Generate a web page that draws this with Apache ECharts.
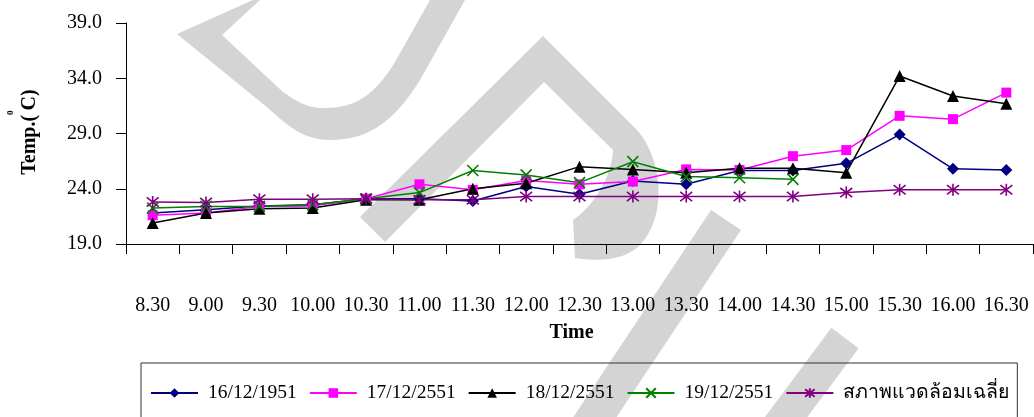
<!DOCTYPE html>
<html>
<head>
<meta charset="utf-8">
<script src="https://cdn.jsdelivr.net/npm/echarts@6/dist/echarts.min.js"></script>
<style>
  html, body { margin: 0; padding: 0; background: #fff; }
  #chart { width: 1034px; height: 417px; }
</style>
</head>
<body>
<div id="chart"></div>
<script>
// Half-hourly readings, 8.30 to 16.30
const times = ['8.30', '9.00', '9.30', '10.00', '10.30', '11.00', '11.30', '12.00', '12.30',
               '13.00', '13.30', '14.00', '14.30', '15.00', '15.30', '16.00', '16.30'];

const seriesNames = ['16/12/1951', '17/12/2551', '18/12/2551', '19/12/2551', 'สภาพแวดล้อมเฉลี่ย'];

const day16 = [21.8, 22.1, 22.45, 22.55, 23.1, 23.1, 22.9, 24.2, 23.5, 24.7, 24.4, 25.65, 25.65, 26.3, 28.9, 25.8, 25.7];
const day17 = [21.6, 21.8, 22.4, 22.45, 23.1, 24.4, 23.9, 24.75, 24.4, 24.65, 25.75, 25.7, 26.95, 27.5, 30.6, 30.3, 32.7];
const day18 = [20.9, 21.8, 22.2, 22.25, 23.0, 23.0, 24.0, 24.5, 26.0, 25.75, 25.45, 25.85, 25.85, 25.45, 34.2, 32.4, 31.7];
const day19 = [22.25, 22.4, 22.4, 22.55, 23.1, 23.65, 25.65, 25.25, 24.55, 26.45, 25.1, 25.0, 24.85, null, null, null, null];
const average = [22.8, 22.75, 23.05, 23.05, 23.1, 23.0, 23.0, 23.3, 23.3, 23.3, 23.3, 23.3, 23.3, 23.65, 23.9, 23.9, 23.9];

const yMin = 19, yMax = 39, yStep = 5;

const FONT = "'Liberation Serif', 'Times New Roman', 'DejaVu Serif', serif";
const WM = '#d4d4d4';

// Outline builder for the pale background lettering: straight segments and cubic curves
function outline(cmds) {
  const pts = [];
  let cur = null;
  cmds.forEach(function (c) {
    if (c.length === 2) {
      cur = c; pts.push(c);
    } else {
      const p0 = cur, p1 = [c[0], c[1]], p2 = [c[2], c[3]], p3 = [c[4], c[5]];
      for (let i = 1; i <= 16; i++) {
        const t = i / 16, u = 1 - t;
        pts.push([
          u * u * u * p0[0] + 3 * u * u * t * p1[0] + 3 * u * t * t * p2[0] + t * t * t * p3[0],
          u * u * u * p0[1] + 3 * u * u * t * p1[1] + 3 * u * t * t * p2[1] + t * t * t * p3[1]
        ]);
      }
      cur = p3;
    }
  });
  return pts;
}

function lineSeries(name, data, color, symbol, size, stroked) {
  return {
    name: name,
    type: 'line',
    data: data,
    symbol: symbol,
    symbolSize: size,
    showAllSymbol: true,
    connectNulls: false,
    lineStyle: { color: color, width: 1.5 },
    itemStyle: stroked
      ? { color: color, borderColor: color, borderWidth: 1.6 }
      : { color: color, borderWidth: 0 },
    emphasis: { disabled: true }
  };
}

const chart = echarts.init(document.getElementById('chart'), null, { renderer: 'canvas' });

chart.setOption({
  animation: false,
  backgroundColor: '#fff',
  grid: { left: 126, right: 1, top: 23, bottom: 173, containLabel: false },
  xAxis: {
    type: 'category',
    data: times,
    boundaryGap: true,
    name: 'Time',
    nameLocation: 'middle',
    nameGap: 79,
    nameTextStyle: { fontFamily: FONT, fontSize: 20, fontWeight: 'bold', color: '#000', padding: [0, 16, 0, 0] },
    axisLine: { show: true, lineStyle: { color: '#000', width: 1 } },
    axisTick: { show: true, length: 10, interval: 0, lineStyle: { color: '#000', width: 1 } },
    axisLabel: { interval: 0, margin: 52, fontFamily: FONT, fontSize: 20, color: '#000' },
    splitLine: { show: false }
  },
  yAxis: {
    type: 'value',
    min: yMin,
    max: yMax,
    interval: yStep,
    axisLine: { show: true, lineStyle: { color: '#000', width: 1 } },
    axisTick: { show: true, length: 10, lineStyle: { color: '#000', width: 1 } },
    axisLabel: { margin: 24, fontFamily: FONT, fontSize: 20, color: '#000',
                 formatter: function (v) { return v.toFixed(1); } },
    splitLine: { show: false }
  },
  legend: {
    data: seriesNames,
    left: 141,
    top: 363,
    orient: 'horizontal',
    padding: [20, 8, 18, 9],
    itemGap: 12,
    itemWidth: 47,
    itemHeight: 12,
    borderColor: '#333',
    borderWidth: 1,
    backgroundColor: 'transparent',
    textStyle: { fontFamily: FONT, fontSize: 19.5, color: '#000', padding: [0, 0, 0, 5] }
  },
  graphic: [
    {
      // pale diagonal lettering behind the plot
      type: 'group',
      silent: true,
      z: -5,
      children: [
        {
          type: 'polygon',
          z: -5,
          shape: { points: outline([
            [253, 0], [177, 34], [268, 108],
            [290, 128, 305, 140, 330, 140],
            [370, 140, 395, 120, 420, 80],
            [465, 0], [430, 0], [395, 62],
            [375, 95, 355, 108, 325, 108],
            [305, 108, 295, 100, 283, 92],
            [222, 35], [260, 0]
          ]) },
          style: { fill: WM }
        },
        {
          type: 'polygon',
          z: -5,
          shape: { points: outline([
            [360, 217], [543, 36], [637, 130],
            [662, 158, 668, 215, 640, 245],
            [625, 260, 600, 262, 575, 258],
            [573, 220],
            [595, 205, 612, 175, 613, 150],
            [544, 82], [385, 242]
          ]) },
          style: { fill: WM }
        },
        {
          type: 'polyline',
          z: -5,
          shape: { points: [[726, 220], [585, 432]] },
          style: { stroke: WM, lineWidth: 36, fill: null, lineCap: 'butt' }
        },
        {
          type: 'polyline',
          z: -5,
          shape: { points: [[845, 338], [775, 432]] },
          style: { stroke: WM, lineWidth: 34, fill: null, lineCap: 'butt' }
        }
      ]
    },
    {
      type: 'text',
      x: 30,
      y: 132,
      rotation: Math.PI / 2,
      silent: true,
      style: {
        text: '{a|Temp.(}{s|0}{a|C)}',
        align: 'center',
        verticalAlign: 'middle',
        rich: {
          a: { fontFamily: FONT, fontSize: 20, fontWeight: 'bold', lineHeight: 20, verticalAlign: 'bottom', fill: '#000' },
          s: { fontFamily: FONT, fontSize: 9, fontWeight: 'bold', lineHeight: 9, padding: [0, 0, 25, 0], verticalAlign: 'bottom', fill: '#000' }
        }
      }
    }
  ],
  series: [
    lineSeries(seriesNames[0], day16, '#000080', 'diamond', 12, false),
    lineSeries(seriesNames[1], day17, '#FF00FF', 'rect', 10, false),
    lineSeries(seriesNames[2], day18, '#000000', 'triangle', 12, false),
    lineSeries(seriesNames[3], day19, '#008000', 'path://M0,0L10,10M10,0L0,10', 11, true),
    lineSeries(seriesNames[4], average, '#800080', 'path://M0,0L10,10M10,0L0,10M5,-1.5L5,11.5', 12, true)
  ]
});
</script>
</body>
</html>
